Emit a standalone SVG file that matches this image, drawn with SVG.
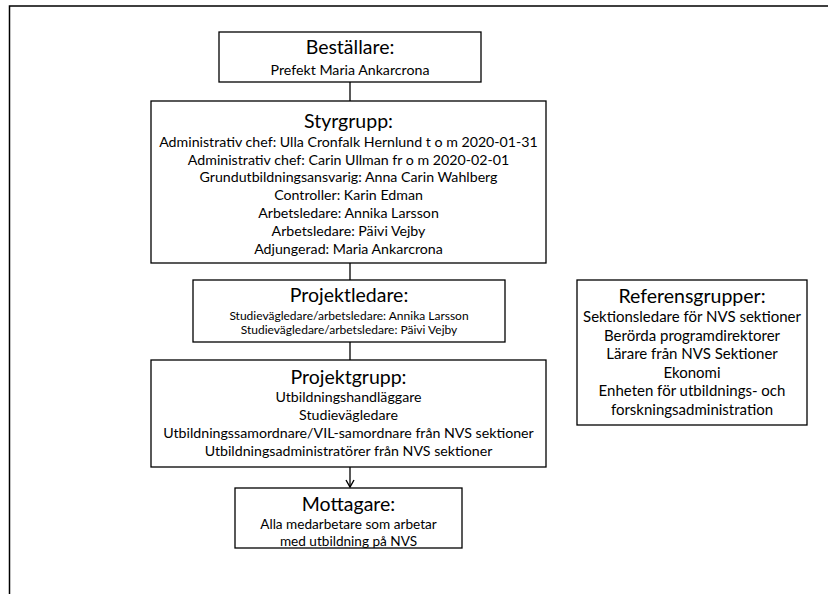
<svg xmlns="http://www.w3.org/2000/svg" width="828" height="594" viewBox="0 0 828 594">
<defs>
<marker id="arr" markerWidth="12" markerHeight="12" refX="10" refY="6" orient="auto" markerUnits="userSpaceOnUse" viewBox="0 0 12 12">
<path d="M3,2 L10,6 L3,10" fill="none" stroke="#000" stroke-width="1.4"/>
</marker>
</defs>
<style>
.box{fill:#fff;stroke:#000;stroke-width:1.3}
.t{font-family:Lato,"Open Sans","Liberation Sans",sans-serif;text-anchor:middle;fill:#000}
.h{font-size:19.5px}
.b{font-size:14.2px}
.m{font-size:13.6px}
.r{font-size:15px}
.s{font-size:12px}
.c{stroke:#000;stroke-width:1.3;fill:none}
</style>
<rect width="828" height="594" fill="#fff"/>
<path d="M9.5,594 V6 H828" fill="none" stroke="#000" stroke-width="1.5"/>
<g id="connectors">
<line class="c" x1="350" y1="82" x2="350" y2="101"/>
<line class="c" x1="350" y1="263" x2="350" y2="280"/>
<line class="c" x1="350" y1="342" x2="350" y2="360"/>
<line class="c" x1="350" y1="467" x2="350" y2="487" marker-end="url(#arr)"/>
</g>
<g id="bestallare">
<rect class="box" x="219" y="32" width="262" height="50"/>
<text class="t h" x="350" y="54">Beställare:</text>
<text class="t b" x="350" y="75">Prefekt Maria Ankarcrona</text>
</g>
<g id="styrgrupp">
<rect class="box" x="151" y="101" width="395" height="162"/>
<text class="t h" x="348.5" y="127.5">Styrgrupp:</text>
<text class="t b" x="348.5" y="147">Administrativ chef: Ulla Cronfalk Hernlund t o m 2020-01-31</text>
<text class="t b" x="348.5" y="164.5">Administrativ chef: Carin Ullman fr o m 2020-02-01</text>
<text class="t b" x="348.5" y="182">Grundutbildningsansvarig: Anna Carin Wahlberg</text>
<text class="t b" x="348.5" y="200">Controller: Karin Edman</text>
<text class="t b" x="348.5" y="218">Arbetsledare: Annika Larsson</text>
<text class="t b" x="348.5" y="236">Arbetsledare: Päivi Vejby</text>
<text class="t b" x="348.5" y="253.5">Adjungerad: Maria Ankarcrona</text>
</g>
<g id="projektledare">
<rect class="box" x="193" y="280" width="312" height="62"/>
<text class="t h" x="349" y="302">Projektledare:</text>
<text class="t s" x="349" y="319.5">Studievägledare/arbetsledare: Annika Larsson</text>
<text class="t s" x="349" y="334">Studievägledare/arbetsledare: Päivi Vejby</text>
</g>
<g id="projektgrupp">
<rect class="box" x="151" y="360" width="395" height="107"/>
<text class="t h" x="348.5" y="384">Projektgrupp:</text>
<text class="t b" x="348.5" y="402">Utbildningshandläggare</text>
<text class="t b" x="348.5" y="420">Studievägledare</text>
<text class="t b" x="348.5" y="438">Utbildningssamordnare/VIL-samordnare från NVS sektioner</text>
<text class="t b" x="348.5" y="456">Utbildningsadministratörer från NVS sektioner</text>
</g>
<g id="mottagare">
<rect class="box" x="235" y="488" width="227" height="60"/>
<text class="t h" x="348.5" y="511">Mottagare:</text>
<text class="t m" x="348.5" y="529">Alla medarbetare som arbetar</text>
<text class="t m" x="348.5" y="546">med utbildning på NVS</text>
</g>
<g id="referensgrupper">
<rect class="box" x="577" y="280" width="230" height="145"/>
<text class="t h" x="692" y="303">Referensgrupper:</text>
<text class="t r" x="692" y="322">Sektionsledare för NVS sektioner</text>
<text class="t r" x="692" y="340.5">Berörda programdirektorer</text>
<text class="t r" x="692" y="359">Lärare från NVS Sektioner</text>
<text class="t r" x="692" y="377.5">Ekonomi</text>
<text class="t r" x="692" y="396">Enheten för utbildnings- och</text>
<text class="t r" x="692" y="414.5">forskningsadministration</text>
</g>
</svg>
